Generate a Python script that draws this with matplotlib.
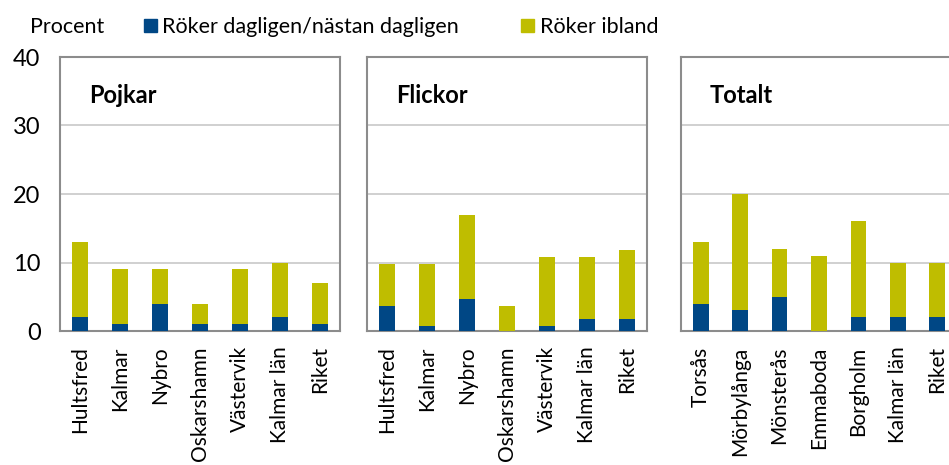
#! /usr/bin/env python3

'''
Rökvanor per kommun: pojkar, flickor och totalt (staplade staplar)
'''

import matplotlib.pyplot as plt
from matplotlib.patches import Patch

plt.rcParams['font.family'] = ['Lato', 'DejaVu Sans']

BLUE = '#004785'
YELLOW = '#bfbd00'

orter_pojkar = ['Hultsfred', 'Kalmar', 'Nybro', 'Oskarshamn', 'Västervik', 'Kalmar län', 'Riket']
dagligen_pojkar = [2, 1, 4, 1, 1, 2, 1]
ibland_pojkar = [11, 8, 5, 3, 8, 8, 6]

orter_flickor = ['Hultsfred', 'Kalmar', 'Nybro', 'Oskarshamn', 'Västervik', 'Kalmar län', 'Riket']
dagligen_flickor = [3.7, 0.8, 4.7, 0, 0.8, 1.8, 1.8]
ibland_flickor = [6.1, 9.0, 12.2, 3.7, 10.0, 9.0, 10.0]

orter_totalt = ['Torsås', 'Mörbylånga', 'Mönsterås', 'Emmaboda', 'Borgholm', 'Kalmar län', 'Riket']
dagligen_totalt = [4, 3, 5, 0, 2, 2, 2]
ibland_totalt = [9, 17, 7, 11, 14, 8, 8]

paneler = [
    ('Pojkar', orter_pojkar, dagligen_pojkar, ibland_pojkar, 60, 280),
    ('Flickor', orter_flickor, dagligen_flickor, ibland_flickor, 367, 280),
    ('Totalt', orter_totalt, dagligen_totalt, ibland_totalt, 681, 276),
]

W, H = 949, 465
fig = plt.figure(figsize=(W / 100, H / 100), dpi=100)

for i, (titel, orter, dagl, ibl, x0, bredd) in enumerate(paneler):
    ax = fig.add_axes([x0 / W, (H - 331) / H, bredd / W, 274 / H])
    x = range(len(orter))
    ax.bar(x, dagl, width=0.4, color=BLUE, zorder=3)
    ax.bar(x, ibl, bottom=dagl, width=0.4, color=YELLOW, zorder=3)
    ax.set_ylim(0, 40)
    ax.set_xlim(-0.5, len(orter) - 0.5)
    ax.set_yticks([0, 10, 20, 30, 40])
    ax.yaxis.grid(True, color='#c8c8c8', linewidth=1.2, zorder=0)
    ax.set_xticks(list(x))
    ax.set_xticklabels(orter, rotation=90, fontsize=15)
    ax.tick_params(length=0, pad=11)
    ax.tick_params(axis='y', labelsize=17, pad=14)
    if i > 0:
        ax.set_yticklabels([])
    for s in ax.spines.values():
        s.set_color('#8c8c8c')
        s.set_linewidth(1.5)
    ax.text(0.105, 0.86, titel, transform=ax.transAxes, fontsize=17,
            fontweight='bold', va='center')

fig.text(30 / W, 1 - 27 / H, 'Procent', fontsize=15.5, va='center')
handles = [Patch(color=BLUE, label='Röker dagligen/nästan dagligen'),
           Patch(color=YELLOW, label='Röker ibland')]
fig.legend(handles=handles, loc='center left', bbox_to_anchor=(144 / W, 1 - 27 / H),
           ncol=2, frameon=False, fontsize=15.5, handlelength=0.6, handleheight=0.6,
           handletextpad=0.25, columnspacing=2.9, borderaxespad=0, borderpad=0)

fig.savefig('out.png', dpi=100)
